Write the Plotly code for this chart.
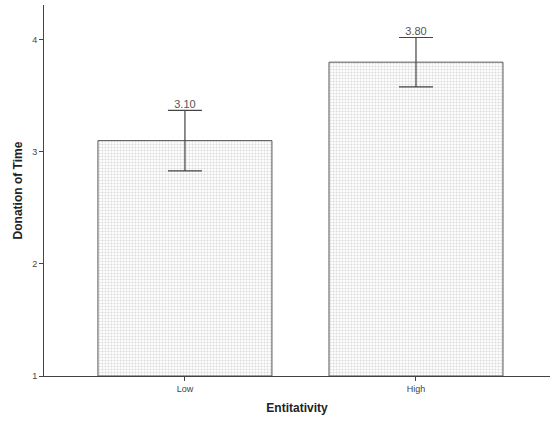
import plotly.graph_objects as go

categories = ["Low", "High"]
means = [3.10, 3.80]
err_plus = [0.27, 0.22]
err_minus = [0.27, 0.22]
labels = ["3.10", "3.80"]
y_ticks = [1, 2, 3, 4]

fig = go.Figure()
fig.add_trace(go.Bar(
    x=categories, y=[m - 1 for m in means], base=1,
    width=0.753,
    marker=dict(color="white", line=dict(color="#555555", width=1),
                pattern=dict(shape=".", size=3, fgcolor="#b5b5b5", bgcolor="white", solidity=0.4)),
    error_y=dict(type="data", array=err_plus, arrayminus=err_minus, color="#444444", thickness=1.2, width=17),
    showlegend=False,
))
fig.add_trace(go.Scatter(
    x=categories, y=[m + e for m, e in zip(means, err_plus)],
    mode="text", text=labels, textposition="top center",
    textfont=dict(family="Arial, Liberation Sans", size=11, color="#555555"),
    showlegend=False, cliponaxis=False,
))
fig.update_layout(
    width=554, height=423,
    margin=dict(l=44, r=4, t=5, b=47),
    plot_bgcolor="white", paper_bgcolor="white",
    font=dict(family="Arial, Liberation Sans", size=9, color="#444444"),
)
fig.update_xaxes(
    type="category", range=[-0.61, 1.58], automargin=False,
    showline=True, linecolor="#444444", linewidth=1,
    ticks="outside", ticklen=4, tickcolor="#444444",
    showgrid=False, zeroline=False,
    title=dict(text="<b>Entitativity</b>", font=dict(size=12, color="#222222"), standoff=10),
)
fig.update_yaxes(
    range=[1, 4.31], tickvals=y_ticks, automargin=False,
    showline=True, linecolor="#444444", linewidth=1,
    ticks="outside", ticklen=4, tickcolor="#444444",
    showgrid=False, zeroline=False,
    title=dict(text="<b>Donation of Time</b>", font=dict(size=12, color="#222222"), standoff=6),
)
fig.write_html("out.html", config={"displayModeBar": False},
               post_script="document.body.style.margin='0';")
